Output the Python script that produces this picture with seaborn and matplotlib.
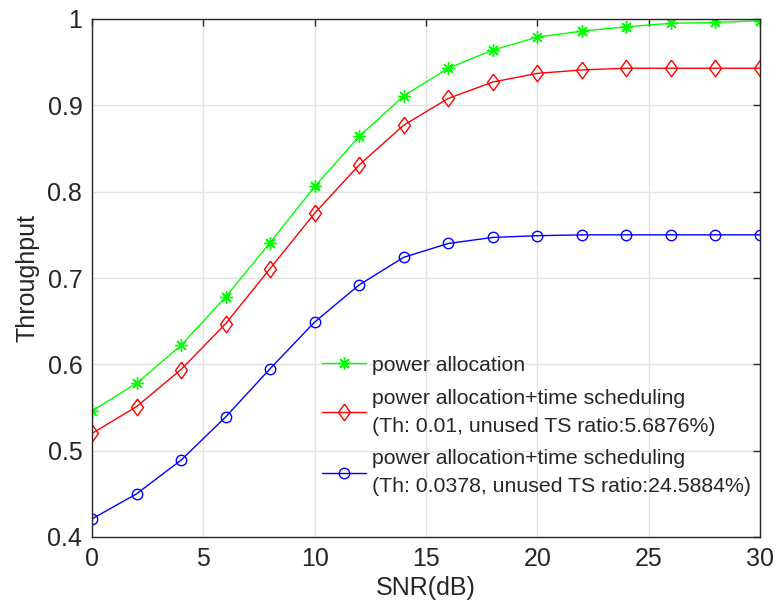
import matplotlib
matplotlib.use("Agg")
import matplotlib.pyplot as plt
import seaborn as sns
import pandas as pd

snr = [0, 2, 4, 6, 8, 10, 12, 14, 16, 18, 20, 22, 24, 26, 28, 30]
power_alloc = [0.546, 0.578, 0.622, 0.678, 0.741, 0.806, 0.864, 0.911, 0.943, 0.964,
               0.979, 0.986, 0.991, 0.995, 0.996, 0.998]
pa_ts_001 = [0.520, 0.551, 0.594, 0.647, 0.711, 0.775, 0.831, 0.877, 0.908, 0.927,
             0.937, 0.941, 0.943, 0.943, 0.943, 0.943]
pa_ts_0378 = [0.421, 0.450, 0.489, 0.539, 0.595, 0.649, 0.692, 0.724, 0.740, 0.747,
              0.749, 0.750, 0.750, 0.750, 0.750, 0.750]
labels = ["power allocation",
          "power allocation+time scheduling\n(Th: 0.01, unused TS ratio:5.6876%)",
          "power allocation+time scheduling\n(Th: 0.0378, unused TS ratio:24.5884%)"]
x_ticks = [0, 5, 10, 15, 20, 25, 30]
y_ticks = [0.4, 0.5, 0.6, 0.7, 0.8, 0.9, 1.0]
y_ticklabels = ["0.4", "0.5", "0.6", "0.7", "0.8", "0.9", "1"]

sns.set_theme(style="white")
plt.rcParams['font.family'] = ['Liberation Sans', 'DejaVu Sans']

fig = plt.figure(figsize=(7.78, 6.16), dpi=100)
ax = fig.add_axes([92/778, 1-537/616, 668/778, 518/616])

diamond = [(0, 1), (0.72, 0), (0, -1), (-0.72, 0), (0, 1)]
series = [power_alloc, pa_ts_001, pa_ts_0378]
colors = ["#00ff00", "#ff0000", "#0000ff"]
markers = [(8, 2, 0), diamond, "o"]
msizes = [9, 12, 7.5]
for vals, lab, col, mk, ms in zip(series, labels, colors, markers, msizes):
    df = pd.DataFrame({"SNR": snr, "Throughput": vals})
    sns.lineplot(data=df, x="SNR", y="Throughput", ax=ax, color=col, linewidth=1.0,
                 marker=mk, markersize=ms, markeredgewidth=1.0,
                 markerfacecolor="none", markeredgecolor=col, label=lab)

ax.set_xlim(0, 30)
ax.set_ylim(0.4, 1.0)
ax.set_xticks(x_ticks)
ax.set_xticklabels([str(t) for t in x_ticks])
ax.set_yticks(y_ticks)
ax.set_yticklabels(y_ticklabels)
ax.grid(True, color="#e3e3e3", linewidth=1.0)
ax.set_axisbelow(True)
for sp in ax.spines.values():
    sp.set_color("#262626")
    sp.set_linewidth(1.0)
ax.tick_params(axis="both", which="both", direction="in", top=True, right=True,
               length=5, width=1.0, colors="#262626", labelsize=18, pad=7)
ax.set_xlabel("SNR(dB)", fontsize=18, color="#262626", labelpad=4)
ax.set_ylabel("Throughput", fontsize=18, color="#262626", labelpad=6)

leg = ax.legend(loc="center left", bbox_to_anchor=(0.328, 0.214), frameon=False,
                fontsize=15.3, handlelength=2.1, handletextpad=0.25, labelspacing=0.65,
                borderpad=0.0)
for t in leg.texts:
    t.set_color("#262626")
    t.set_linespacing(1.6)

fig.savefig("out.png", dpi=100)
